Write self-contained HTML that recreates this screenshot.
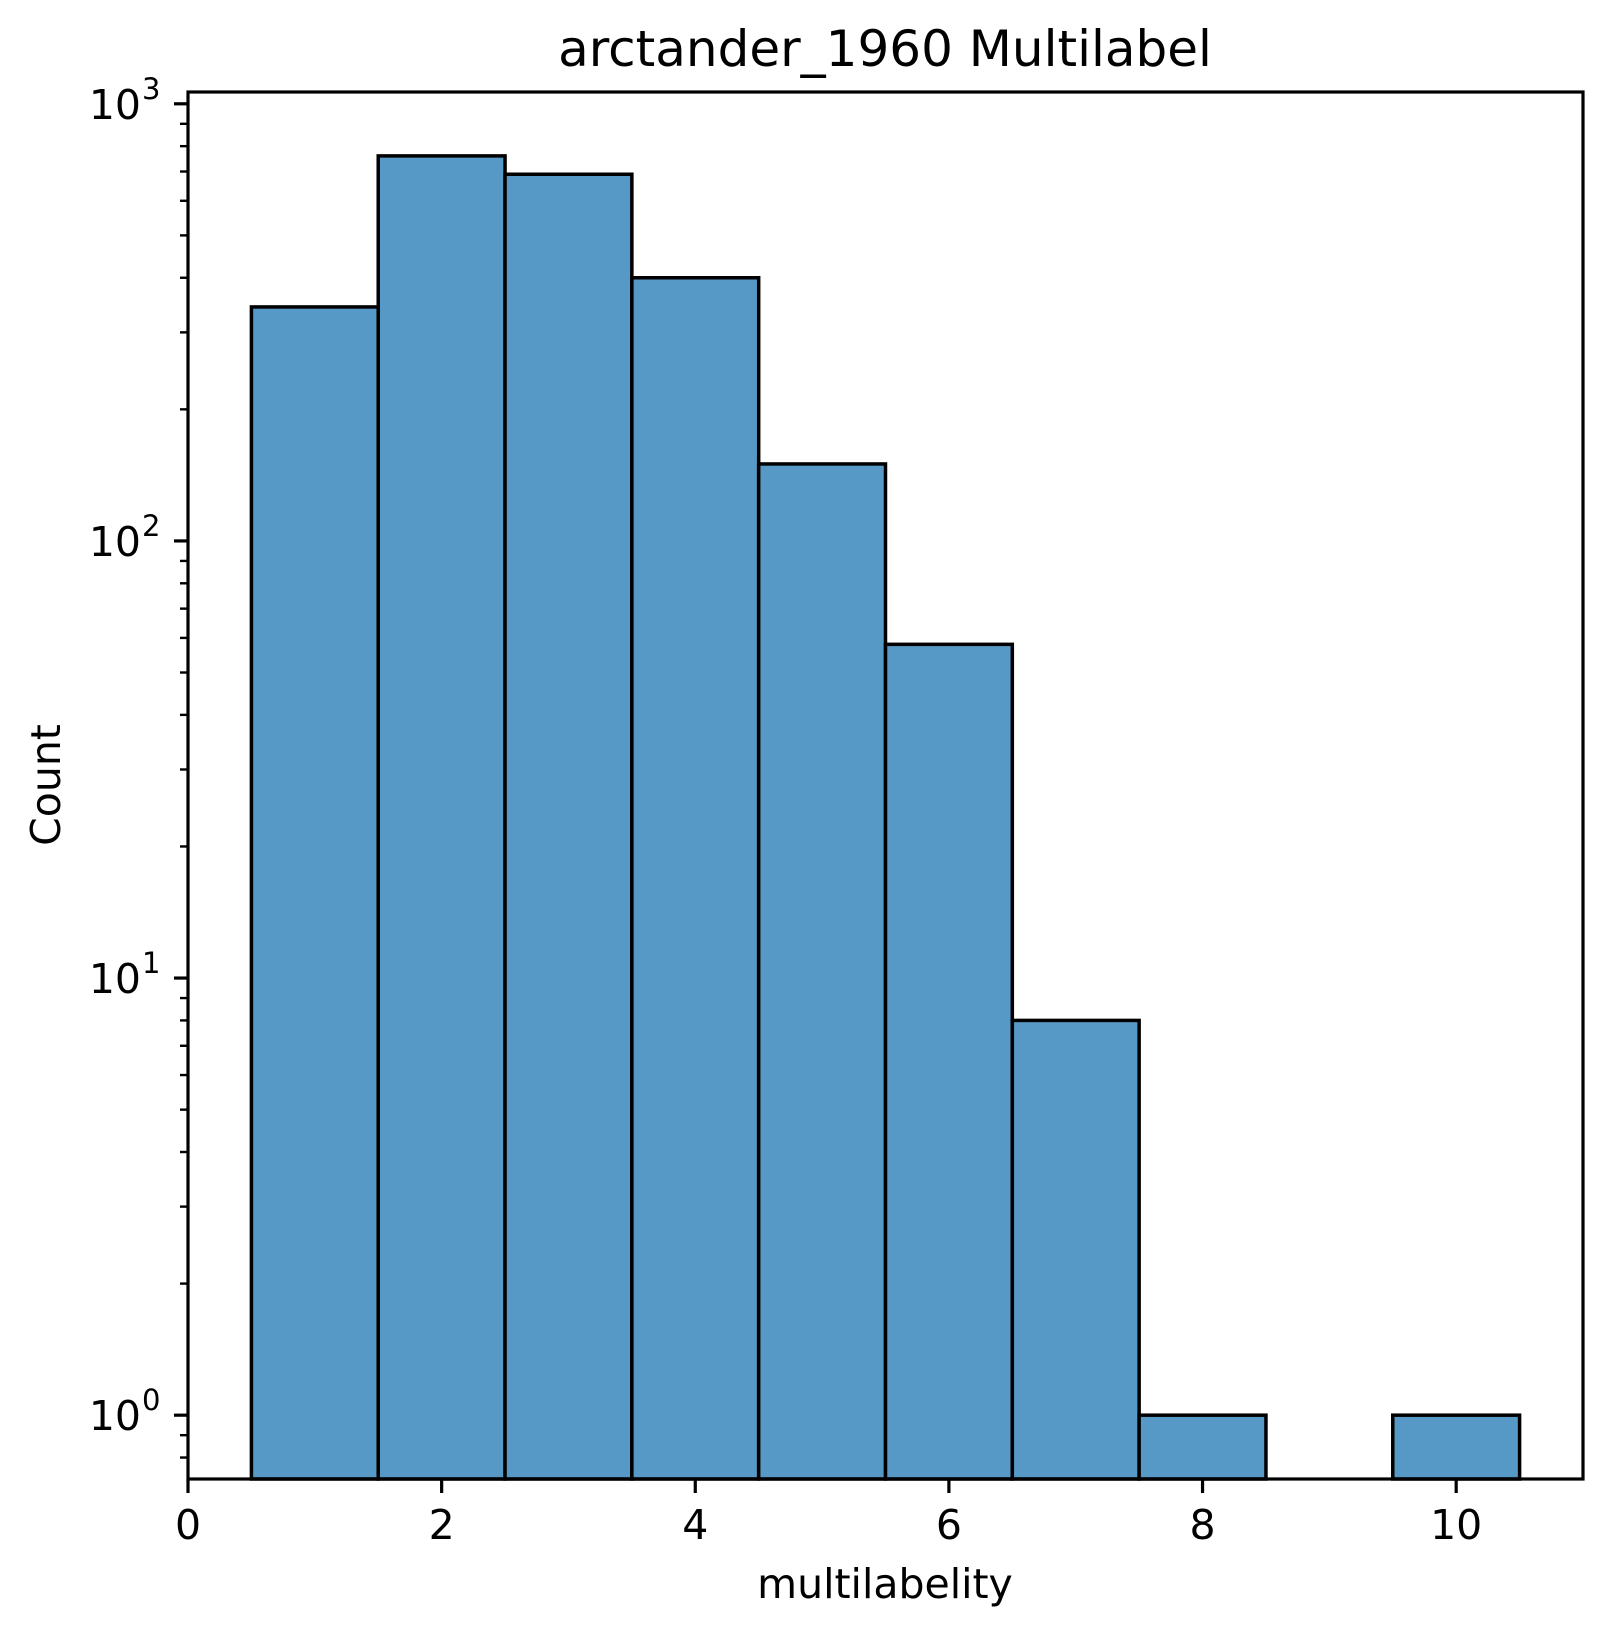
<!DOCTYPE html>
<html><head><meta charset="utf-8"><style>
html,body{margin:0;padding:0;background:#fff;}
svg{display:block;font-family:"DejaVu Sans","Liberation Sans",sans-serif;}
</style></head><body>
<svg id="chart" width="1612" height="1634" viewBox="0 0 1612 1634" xmlns="http://www.w3.org/2000/svg">
<rect width="1612" height="1634" fill="#fff"/>
<g id="bars"></g>
<g id="axes"></g>
<text x="885" y="66" font-size="50" text-anchor="middle">arctander_1960 Multilabel</text>
<text x="885" y="1598" font-size="41" text-anchor="middle">multilabelity</text>
<text transform="translate(60,785) rotate(-90)" font-size="41" text-anchor="middle">Count</text>
</svg>
<script>
const binCenters = [1,2,3,4,5,6,7,8,9,10];
const counts = [343,760,690,400,150,58,8,1,0,1];
const xTicks = [0,2,4,6,8,10];
const yDecades = [0,1,2,3];

const L=188,R=1583,T=92,B=1479;
const xmin=0,xmax=11, lmin=-0.146, lmax=3.027;
const xs=v=>L+(v-xmin)/(xmax-xmin)*(R-L);
const ys=v=>B-(Math.log10(v)-lmin)/(lmax-lmin)*(B-T);
const NS="http://www.w3.org/2000/svg";
const bars=document.getElementById('bars'), axes=document.getElementById('axes');
function mk(tag,attrs,parent){const e=document.createElementNS(NS,tag);for(const k in attrs)e.setAttribute(k,attrs[k]);parent.appendChild(e);return e;}

binCenters.forEach((c,i)=>{
  if(counts[i]<=0)return;
  const x0=xs(c-0.5),x1=xs(c+0.5),y=ys(counts[i]);
  const r=mk('rect',{x:x0,y:y,width:x1-x0,height:B-y,fill:'#5799c6',stroke:'#000','stroke-width':3.5},bars);
  
  
});

const frame=mk('rect',{x:L,y:T,width:R-L,height:B-T,fill:'none',stroke:'#000','stroke-width':3.2},axes);



xTicks.forEach(t=>{
  const x=xs(t);
  const l=mk('line',{x1:x,x2:x,y1:B,y2:B+14,stroke:'#000','stroke-width':3.2},axes);
  
  
  const tx=mk('text',{x:x,y:1539,'font-size':41,'text-anchor':'middle'},axes);
  tx.textContent=t;
  
  
});

for(let d=-1;d<=3;d++){
  for(let m=1;m<10;m++){
    const v=m*Math.pow(10,d);
    const lv=Math.log10(v);
    if(lv<lmin||lv>lmax)continue;
    const y=ys(v), major=m===1;
    const l=mk('line',{x1:L-(major?14:8),x2:L,y1:y,y2:y,stroke:'#000','stroke-width':major?3.2:2.4},axes);
    
    
  }
}
yDecades.forEach(d=>{
  const y=ys(Math.pow(10,d));
  const tx=mk('text',{x:141,y:y+15,'font-size':41,'text-anchor':'end'},axes);
  tx.textContent='10';
  
  
  const sp=mk('text',{x:142,y:y-5,'font-size':29,'text-anchor':'start'},axes);
  sp.textContent=d;
  
  
});
</script>
</body></html>
